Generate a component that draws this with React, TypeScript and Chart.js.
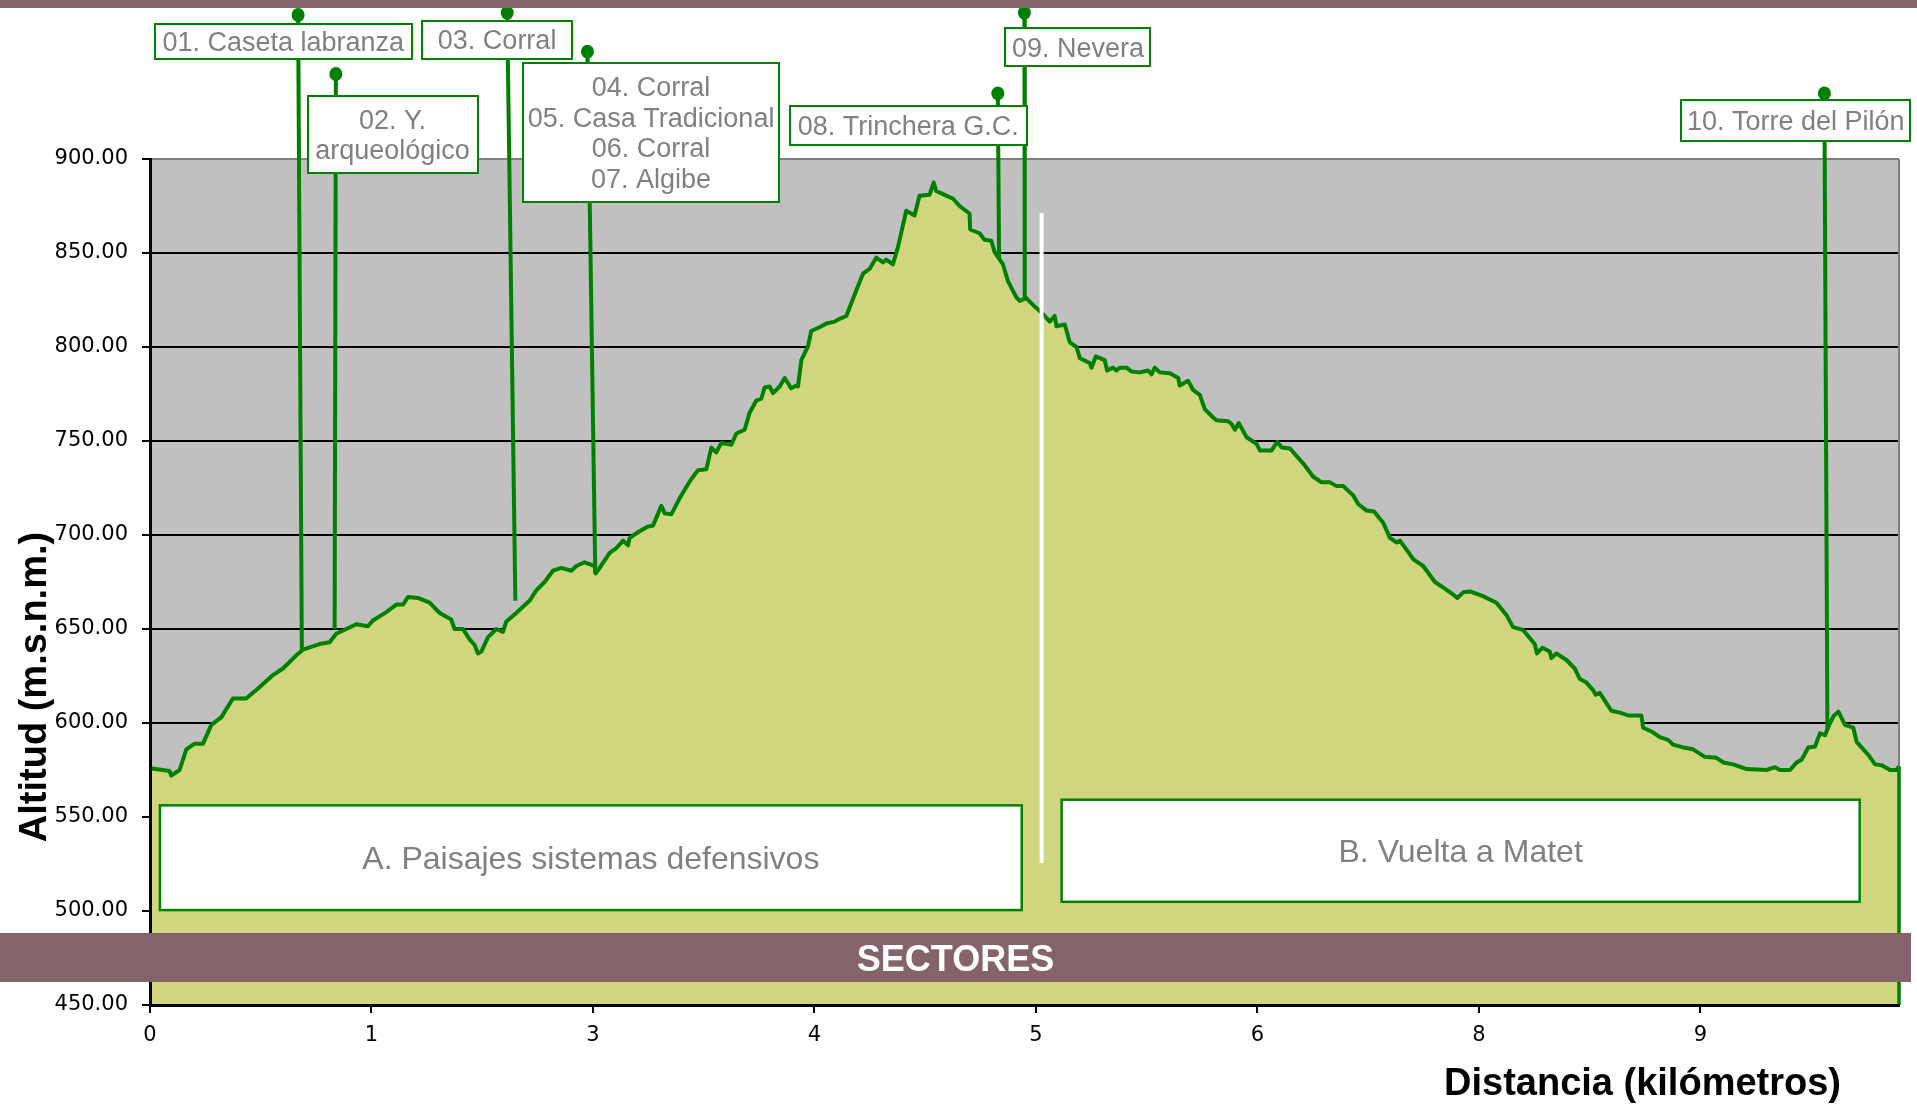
import React, { useEffect, useRef } from 'react';
import { Chart, registerables } from 'chart.js';

Chart.register(...registerables);

// ---------- DATA ----------
const PROFILE_KM = [
  0.0, 0.11, 0.12, 0.167, 0.205, 0.252, 0.299, 0.346, 0.402, 0.468, 0.543, 0.618, 0.694, 0.75, 0.826, 0.863,
  0.957, 1.014, 1.051, 1.108, 1.164, 1.23, 1.258, 1.334, 1.39, 1.428, 1.456, 1.512, 1.578, 1.635, 1.7, 1.719,
  1.766, 1.804, 1.832, 1.851, 1.87, 1.907, 1.954, 1.992, 2.011, 2.067, 2.142, 2.18, 2.227, 2.274, 2.321, 2.378,
  2.406, 2.453, 2.481, 2.51, 2.515, 2.538, 2.594, 2.632, 2.67, 2.698, 2.707, 2.763, 2.811, 2.839, 2.886, 2.905,
  2.942, 2.989, 3.046, 3.093, 3.14, 3.168, 3.196, 3.225, 3.281, 3.309, 3.356, 3.384, 3.422, 3.45, 3.469, 3.497,
  3.516, 3.554, 3.582, 3.619, 3.648, 3.657, 3.676, 3.714, 3.732, 3.779, 3.817, 3.864, 3.892, 3.93, 3.986, 4.024,
  4.061, 4.099, 4.137, 4.155, 4.193, 4.221, 4.268, 4.315, 4.343, 4.4, 4.423, 4.437, 4.494, 4.531, 4.569, 4.625,
  4.629, 4.682, 4.71, 4.748, 4.767, 4.814, 4.842, 4.889, 4.908, 4.946, 4.993, 5.04, 5.078, 5.106, 5.116, 5.163,
  5.191, 5.229, 5.248, 5.304, 5.314, 5.338, 5.388, 5.402, 5.436, 5.454, 5.473, 5.511, 5.539, 5.586, 5.633, 5.652,
  5.671, 5.699, 5.756, 5.803, 5.812, 5.859, 5.888, 5.925, 5.953, 6.0, 6.019, 6.085, 6.104, 6.123, 6.145, 6.189,
  6.245, 6.264, 6.33, 6.362, 6.387, 6.434, 6.471, 6.509, 6.565, 6.612, 6.66, 6.697, 6.735, 6.791, 6.819, 6.866,
  6.908, 6.96, 6.998, 7.036, 7.054, 7.101, 7.13, 7.186, 7.252, 7.308, 7.346, 7.378, 7.412, 7.45, 7.523, 7.599,
  7.655, 7.693, 7.749, 7.815, 7.828, 7.858, 7.9, 7.909, 7.937, 7.994, 8.041, 8.069, 8.107, 8.144, 8.159, 8.182,
  8.22, 8.248, 8.295, 8.342, 8.417, 8.427, 8.474, 8.521, 8.568, 8.596, 8.653, 8.709, 8.775, 8.841, 8.879, 8.935,
  9.011, 9.124, 9.171, 9.199, 9.256, 9.293, 9.322, 9.359, 9.397, 9.425, 9.453, 9.482, 9.504, 9.529, 9.566, 9.613,
  9.632, 9.67, 9.698, 9.736, 9.773, 9.82, 9.858, 9.871,
];
const PROFILE_ALT = [
  576, 574.5, 572, 575, 586, 589, 589, 599, 603, 613, 613, 619, 625.5, 629, 636, 639,
  642, 643, 647.5, 650, 652.5, 651.5, 654.5, 659, 663, 663, 667, 666.5, 664, 658.5, 655, 650,
  650, 644.5, 641.5, 637, 638, 645.5, 650, 648.5, 654, 658.5, 665, 670.5, 675, 681, 682.5, 681,
  683.5, 685.5, 684.5, 683.5, 679.5, 682.5, 690.5, 693, 697, 694.5, 698.5, 702, 704.5, 705, 715.5, 711.5,
  711, 719.5, 728.5, 734.5, 735, 746.5, 744, 749, 748, 754, 756, 765, 771.5, 772.5, 778.5, 779,
  775.5, 779, 783.5, 778, 779.5, 779, 793, 800.5, 808.5, 810.5, 812.5, 813.5, 815, 816.5, 830, 839,
  841.5, 847.5, 845, 846.5, 844, 853, 872.5, 870, 880.5, 881, 887.5, 883, 880.5, 879, 875, 871,
  862.5, 860.5, 857, 856.5, 850.5, 844, 835, 826.5, 824.5, 826, 821.5, 817.5, 813.5, 816.5, 811, 812,
  802.5, 800, 794, 791.5, 789, 795, 793, 787.5, 789, 787.5, 789, 789, 787, 786.5, 787.5, 785.5,
  789, 786.5, 786, 783.5, 779.5, 782, 777, 774.5, 767, 762.5, 761, 760.5, 759, 756, 759.5, 752,
  748.5, 745, 745, 749.5, 746.5, 746, 742, 738, 731, 728, 728, 726, 726, 721, 716.5, 713,
  712.5, 706.5, 698.5, 696, 697, 691, 687, 683.5, 675, 671.5, 669, 666.5, 669.5, 670, 667.5, 664,
  657.5, 651, 649.5, 642, 637, 640, 638, 634.5, 637, 633.5, 629, 623.5, 621.5, 617.5, 615, 616,
  610.5, 606.5, 605.5, 604, 604, 597.5, 595.5, 592.5, 591, 588.5, 587, 586, 582, 581.5, 579, 578,
  575.5, 575, 576.5, 575, 575, 579, 580.5, 587, 587.5, 594.5, 593.5, 600, 604, 606, 599, 597.5,
  590, 586, 583, 578, 577.5, 575, 575, 577,
];

const X_MAX = 9.871;
const X_TICK_VALUES = [0, 1.25, 2.5, 3.75, 5, 6.25, 7.5, 8.75];
const X_TICK_LABELS = ['0', '1', '3', '4', '5', '6', '8', '9'];
const Y_MIN = 450;
const Y_MAX = 900;
const Y_STEP = 50;

const PIN_LABELS = [
  ['01. Caseta labranza'],
  ['02. Y.', 'arqueológico'],
  ['03. Corral'],
  ['04. Corral', '05. Casa Tradicional', '06. Corral', '07. Algibe'],
  ['08. Trinchera G.C.'],
  ['09. Nevera'],
  ['10. Torre del Pilón'],
];
const PIN_TOP_KM = [0.836, 1.049, 2.016, 2.469, 4.785, 4.935, 9.45];
const PIN_TOP_ALT = [976.6, 945.2, 977.8, 957.1, 934.9, 977.8, 934.9];
const PIN_BASE_KM = [0.857, 1.042, 2.062, 2.513, 4.792, 4.937, 9.467];
const PIN_BASE_ALT = [638.8, 649.8, 665.0, 679.8, 847.3, 825.6, 596.6];

const SECTOR_NAMES = ['A. Paisajes sistemas defensivos', 'B. Vuelta a Matet'];
const SECTOR_DIVIDER_KM = 5.032;
const SECTOR_DIVIDER_ALT = [871.3, 525.5];
const BAND_TEXT = 'SECTORES';
const X_TITLE = 'Distancia (kilómetros)';
const Y_TITLE = 'Altitud (m.s.n.m.)';

// ---------- LAYOUT (annotation placement, not data) ----------
const PIN_BOX_LAYOUT = [
  { km: 0.752, alt: 962.6, w: 257, h: 35 },
  { km: 1.369, alt: 913.1, w: 170, h: 77 },
  { km: 1.959, alt: 963.4, w: 150, h: 38 },
  { km: 2.828, alt: 914.2, w: 256, h: 139 },
  { km: 4.279, alt: 917.8, w: 237, h: 39 },
  { km: 5.237, alt: 959.5, w: 145, h: 38 },
  { km: 9.288, alt: 920.6, w: 229, h: 41 },
];
const SECTOR_BOX_LAYOUT = [
  { km0: 0.056, km1: 4.92, alt0: 556.2, alt1: 500.5 },
  { km0: 5.145, km1: 9.649, alt0: 559.2, alt1: 504.9 },
];

const GREEN = '#008000';
const FILL = '#CFD67D';
const PLOT_BG = '#C0C0C0';
const BAND = '#84646A';
const LABEL_GREY = '#808080';

const overlayPlugin = {
  id: 'overlay',
  beforeDraw(chart: any) {
    const { ctx, chartArea: a } = chart;
    ctx.save();
    ctx.fillStyle = PLOT_BG;
    ctx.fillRect(a.left, a.top, a.right - a.left, a.bottom - a.top);
    ctx.restore();
  },
  afterDatasetsDraw(chart: any) {
    const { ctx, chartArea: a, scales } = chart;
    const xs = scales.x;
    const ys = scales.y;
    ctx.save();
    // right plot border
    ctx.strokeStyle = '#808080';
    ctx.lineWidth = 2;
    ctx.beginPath();
    ctx.moveTo(a.right, a.top);
    ctx.lineTo(a.right, a.bottom);
    ctx.stroke();
    // closing outline of the area at the right edge
    const lastX = xs.getPixelForValue(PROFILE_KM[PROFILE_KM.length - 1]);
    const lastY = ys.getPixelForValue(PROFILE_ALT[PROFILE_ALT.length - 1]);
    ctx.strokeStyle = GREEN;
    ctx.lineWidth = 3.5;
    ctx.beginPath();
    ctx.moveTo(lastX, lastY);
    ctx.lineTo(lastX, a.bottom);
    ctx.stroke();
    // pin head dots (outside the plot area, so drawn here)
    ctx.fillStyle = GREEN;
    PIN_TOP_KM.forEach((km, i) => {
      const px = xs.getPixelForValue(km);
      const py = ys.getPixelForValue(PIN_TOP_ALT[i]);
      ctx.beginPath();
      ctx.ellipse(px, py, 6.5, 7, 0, 0, Math.PI * 2);
      ctx.fill();
    });
    ctx.restore();
  },
  afterDraw(chart: any) {
    const { ctx, chartArea: a, scales, width } = chart;
    const xs = scales.x;
    const ys = scales.y;
    ctx.save();

    // pin label boxes
    ctx.font = '27px "Liberation Sans", Arial, sans-serif';
    ctx.textAlign = 'center';
    ctx.textBaseline = 'middle';
    PIN_LABELS.forEach((lines, i) => {
      const L = PIN_BOX_LAYOUT[i];
      const cx = xs.getPixelForValue(L.km);
      const cy = ys.getPixelForValue(L.alt);
      const x0 = Math.round(cx - L.w / 2);
      const y0 = Math.round(cy - L.h / 2);
      ctx.fillStyle = '#ffffff';
      ctx.fillRect(x0, y0, L.w, L.h);
      ctx.strokeStyle = GREEN;
      ctx.lineWidth = 2;
      ctx.strokeRect(x0, y0, L.w, L.h);
      ctx.fillStyle = LABEL_GREY;
      const lh = 30.5;
      lines.forEach((t, j) => {
        const ty = cy + (j - (lines.length - 1) / 2) * lh + 2;
        ctx.fillText(t, cx, ty);
      });
    });

    // sector boxes
    ctx.font = '32px "Liberation Sans", Arial, sans-serif';
    SECTOR_NAMES.forEach((name, i) => {
      const L = SECTOR_BOX_LAYOUT[i];
      const x0 = xs.getPixelForValue(L.km0);
      const x1 = xs.getPixelForValue(L.km1);
      const y0 = ys.getPixelForValue(L.alt0);
      const y1 = ys.getPixelForValue(L.alt1);
      ctx.fillStyle = '#ffffff';
      ctx.fillRect(x0, y0, x1 - x0, y1 - y0);
      ctx.strokeStyle = GREEN;
      ctx.lineWidth = 2.5;
      ctx.strokeRect(x0, y0, x1 - x0, y1 - y0);
      ctx.fillStyle = LABEL_GREY;
      ctx.fillText(name, (x0 + x1) / 2, (y0 + y1) / 2 + 2);
    });

    // SECTORES band
    const bandTop = a.bottom - 72;
    const bandH = 49;
    ctx.fillStyle = BAND;
    ctx.fillRect(0, bandTop, a.right + 12, bandH);
    ctx.fillStyle = '#ffffff';
    ctx.font = 'bold 36px "Liberation Sans", Arial, sans-serif';
    ctx.textAlign = 'center';
    ctx.textBaseline = 'alphabetic';
    ctx.fillText(BAND_TEXT, (a.right + 12) / 2, bandTop + 38);

    // top band (title strip, cut off)
    ctx.fillStyle = BAND;
    ctx.fillRect(0, 0, width, 8);

    // axis titles
    ctx.fillStyle = '#000000';
    ctx.font = 'bold 38px "Liberation Sans", Arial, sans-serif';
    ctx.textAlign = 'right';
    ctx.textBaseline = 'alphabetic';
    ctx.fillText(X_TITLE, a.right - 58, a.bottom + 90);

    ctx.translate(46, a.top + 528);
    ctx.rotate(-Math.PI / 2);
    ctx.textAlign = 'center';
    ctx.fillText(Y_TITLE, 0, 0);

    ctx.restore();
  },
};

export default function App() {
  const canvasRef = useRef<HTMLCanvasElement | null>(null);

  useEffect(() => {
    const canvas = canvasRef.current;
    if (!canvas) return;
    Chart.defaults.font.family = '"DejaVu Sans", Verdana, sans-serif';

    const profileData = PROFILE_KM.map((x, i) => ({ x, y: PROFILE_ALT[i] }));
    const pinSets = PIN_LABELS.map((lines, i) => ({
      label: lines.join(' / '),
      data: [
        { x: PIN_TOP_KM[i], y: PIN_TOP_ALT[i] },
        { x: PIN_BASE_KM[i], y: PIN_BASE_ALT[i] },
      ],
      borderColor: GREEN,
      borderWidth: 4,
      pointRadius: 0,
      pointHoverRadius: 0,
      fill: false,
      clip: false as any,
      order: 5,
    }));

    const chart = new Chart(canvas, {
      type: 'line',
      data: {
        datasets: [
          {
            label: 'Perfil',
            data: profileData,
            borderColor: GREEN,
            borderWidth: 4,
            backgroundColor: FILL,
            fill: 'start',
            pointRadius: 0,
            tension: 0,
            borderJoinStyle: 'round',
            order: 10,
          },
          ...pinSets,
          {
            label: 'Divisor',
            data: [
              { x: SECTOR_DIVIDER_KM, y: SECTOR_DIVIDER_ALT[0] },
              { x: SECTOR_DIVIDER_KM, y: SECTOR_DIVIDER_ALT[1] },
            ],
            borderColor: '#ffffff',
            borderWidth: 4,
            pointRadius: 0,
            fill: false,
            order: 1,
          },
        ] as any,
      },
      options: {
        responsive: false,
        animation: false,
        events: [],
        layout: { padding: { top: 159, right: 18, left: 0, bottom: 0 } },
        plugins: {
          legend: { display: false },
          tooltip: { enabled: false },
          title: { display: false },
        },
        scales: {
          x: {
            type: 'linear',
            min: 0,
            max: X_MAX,
            afterFit: (s: any) => {
              s.height = 101;
            },
            afterBuildTicks: (s: any) => {
              s.ticks = X_TICK_VALUES.map((v) => ({ value: v }));
            },
            ticks: {
              callback: (_v: any, i: number) => X_TICK_LABELS[i],
              autoSkip: false,
              maxRotation: 0,
              color: '#000000',
              font: { family: '"DejaVu Sans", Verdana, sans-serif', size: 21 },
              padding: 10,
            },
            grid: {
              drawOnChartArea: false,
              drawTicks: true,
              tickLength: 8,
              color: '#000000',
              lineWidth: 2,
            },
            border: { display: true, color: '#000000', width: 3, z: 1 },
          },
          y: {
            type: 'linear',
            min: Y_MIN,
            max: Y_MAX,
            afterFit: (s: any) => {
              s.width = 150;
            },
            ticks: {
              stepSize: Y_STEP,
              callback: (v: any) => Number(v).toFixed(2),
              color: '#000000',
              font: { family: '"DejaVu Sans", Verdana, sans-serif', size: 21 },
              padding: 14,
            },
            grid: {
              color: (c: any) => (c.tick && c.tick.value === Y_MAX ? '#808080' : '#000000'),
              tickColor: '#000000',
              lineWidth: 2,
              tickLength: 8,
            },
            border: { display: true, color: '#000000', width: 3, z: 1 },
          },
        },
      } as any,
      plugins: [overlayPlugin],
    });

    return () => {
      chart.destroy();
    };
  }, []);

  return (
    <div style={{ position: 'fixed', left: 0, top: 0, width: 1917, height: 1106, background: '#ffffff' }}>
      <canvas ref={canvasRef} width={1917} height={1106} style={{ display: 'block' }} />
    </div>
  );
}
